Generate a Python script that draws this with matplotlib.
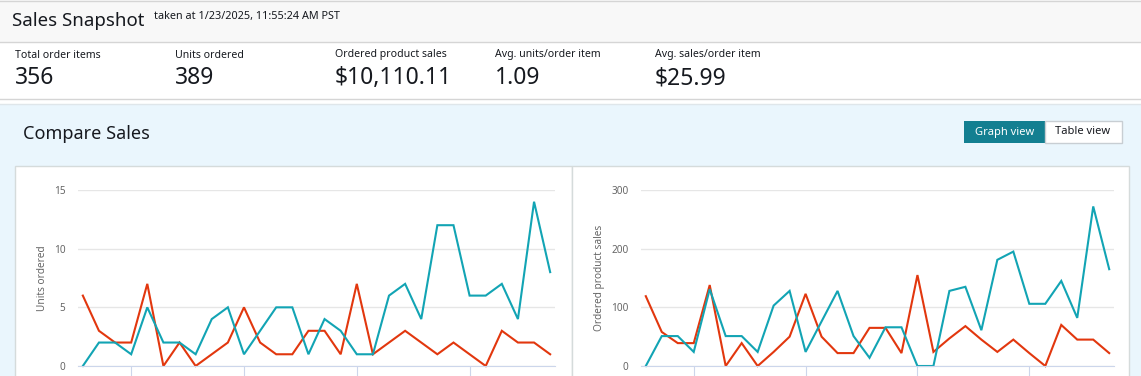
import matplotlib
matplotlib.use("Agg")
from matplotlib import pyplot as plt
from matplotlib.patches import Rectangle

plt.rcParams['font.family'] = ['Noto Sans', 'DejaVu Sans']

# data (one point per day, 30 days)
units_this = [0, 2, 2, 1, 5, 2, 2, 1, 4, 5, 1, 3, 5, 5, 1, 4, 3, 1, 1, 6, 7, 4, 12, 12, 6, 6, 7, 4, 14, 8]
units_prev = [6, 3, 2, 2, 7, 0, 2, 0, 1, 2, 5, 2, 1, 1, 3, 3, 1, 7, 1, 2, 3, 2, 1, 2, 1, 0, 3, 2, 2, 1]
sales_this = [0, 51, 51, 24, 131, 51, 51, 24, 103, 128, 24, 76, 128, 51, 14, 66, 66, 0, 0, 128,
              135, 61, 181, 195, 106, 106, 145, 82, 272, 165]
sales_prev = [119, 58, 39, 39, 138, 0, 39, 0, 24, 50, 123, 50, 22, 22, 65, 65, 22, 155, 24, 47,
              68, 45, 24, 45, 22, 0, 70, 45, 45, 22]
tick_pos = [3, 10, 17, 24]
tick_labels = ["27 Dec", "03 Jan", "10 Jan", "17 Jan"]

metric_names = ["Total order items", "Units ordered", "Ordered product sales",
                "Avg. units/order item", "Avg. sales/order item"]
metric_values = ["356", "389", "$10,110.11", "1.09", "$25.99"]

W, H = 1141, 376
fig = plt.figure(figsize=(W / 100, H / 100), dpi=100)

TEXT = '#16191f'
TEAL = '#12a4b4'
RED = '#e2370e'


def fx(x):
    return x / W


def fy(y):
    return 1 - y / H


def box(x0, y0, x1, y1, fc, ec='none', lw=1):
    fig.add_artist(Rectangle((fx(x0), fy(y1)), fx(x1 - x0), (y1 - y0) / H,
                             transform=fig.transFigure, facecolor=fc, edgecolor=ec,
                             linewidth=lw, zorder=-2))


def hline(y, c='#d5d5d5'):
    fig.add_artist(plt.Line2D([0, 1], [fy(y), fy(y)], transform=fig.transFigure,
                              color=c, lw=1, zorder=-1))


# header strips
box(0, 0, W, 42, '#f8f8f8')
box(0, 42, W, 99, 'white')
box(0, 104, W, H, '#eaf6fd')
hline(1)
hline(42)
hline(99)
hline(104, '#dfe6ea')

fig.text(fx(12), fy(26), "Sales Snapshot", fontsize=13.4, color=TEXT, va='baseline')
fig.text(fx(154), fy(19.5), "taken at 1/23/2025, 11:55:24 AM PST", fontsize=7.8, color=TEXT, va='baseline')

for i, (n, v) in enumerate(zip(metric_names, metric_values)):
    x = 15 + 160 * i
    fig.text(fx(x), fy(57.5), n, fontsize=7.6, color=TEXT, va='baseline')
    fig.text(fx(x), fy(84), v, fontsize=16.5, color=TEXT, va='baseline')

fig.text(fx(23), fy(139), "Compare Sales", fontsize=13, color=TEXT, va='baseline')

# view toggle buttons
box(964, 121, 1045, 143, '#137f91')
box(1045, 121, 1121.5, 143, 'white', '#c8ced3')
fig.text(fx(1004.5), fy(132), "Graph view", fontsize=8, color='white', ha='center', va='center')
fig.text(fx(1083), fy(132), "Table view", fontsize=8, color=TEXT, ha='center', va='center')

# chart panels
box(15, 166, 572, H + 5, 'white', '#d5dbdb')
box(572, 166, 1129, H + 5, 'white', '#d5dbdb')


def chart(left, right, this, prev, ymax, ystep, ylabel):
    ax = fig.add_axes([fx(left), fy(366), fx(right - left), (366 - 190) / H])
    ax.set_zorder(5)
    xs = list(range(len(this)))
    ax.plot(xs, prev, color=RED, lw=1.5, solid_joinstyle='miter', clip_on=False)
    ax.plot(xs, this, color=TEAL, lw=1.5, solid_joinstyle='miter', clip_on=False)
    ax.set_xlim(-0.3, 29.3)
    ax.set_ylim(0, ymax)
    ax.set_yticks(range(0, ymax + 1, ystep))
    ax.grid(axis='y', color='#e6e6e6', lw=1)
    ax.set_axisbelow(True)
    for s in ['top', 'right', 'left']:
        ax.spines[s].set_visible(False)
    ax.spines['bottom'].set_color('#ccd6eb')
    ax.tick_params(axis='y', length=0, labelsize=7.2, labelcolor='#666666', pad=9)
    ax.set_xticks(tick_pos, tick_labels)
    ax.tick_params(axis='x', length=8, color='#ccd6eb', labelsize=7, labelcolor='#666666', pad=-1)
    ax.set_ylabel(ylabel, fontsize=7.3, color='#666666', labelpad=4.5)
    ax.patch.set_alpha(0)
    return ax


chart(78, 555, units_this, units_prev, 15, 5, "Units ordered")
chart(641, 1114, sales_this, sales_prev, 300, 100, "Ordered product sales")

fig.savefig("out.png", dpi=100)
